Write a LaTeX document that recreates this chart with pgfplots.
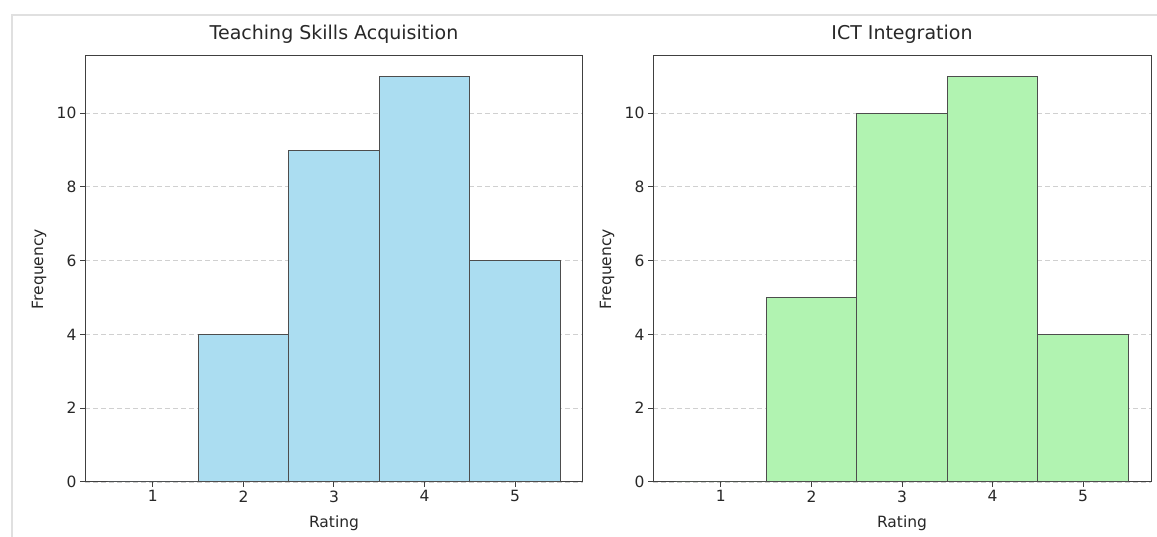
\documentclass[border=0pt]{standalone}
\usepackage{pgfplots}
\pgfplotsset{compat=1.18}
\usepackage{fontspec}
\setmainfont{DejaVu Sans}
\definecolor{skyfill}{RGB}{171,221,241}
\definecolor{greenfill}{RGB}{177,243,177}
\definecolor{edgec}{RGB}{77,77,77}
\definecolor{gridc}{RGB}{208,208,208}
\definecolor{txt}{RGB}{40,40,40}
\pgfplotsset{
 histax/.style={
  scale only axis, width=498pt, height=426pt,
  xmin=0.25, xmax=5.75, ymin=0, ymax=11.55,
  xtick={1,2,3,4,5}, ytick={0,2,4,6,8,10},
  tick align=outside, tick pos=left, major tick length=5pt,
  tick style={black!75, line width=1pt},
  axis line style={black!75, line width=1pt},
  ymajorgrids, grid style={gridc, dash pattern=on 5pt off 3pt, line width=0.9pt},
  tick label style={font=\fontsize{15.5}{18}\selectfont, text=txt},
  /pgf/number format/assume math mode=true,
  title style={font=\fontsize{19}{22}\selectfont, text=txt, at={(axis description cs:0.5,1.038)}, anchor=center},
  every axis y label/.style={at={(axis description cs:-0.092,0.5)}, rotate=90, anchor=center, font=\fontsize{15.5}{18}\selectfont, text=txt},
  every axis x label/.style={at={(axis description cs:0.5,-0.097)}, anchor=center, font=\fontsize{15.5}{18}\selectfont, text=txt},
  xlabel=Rating, ylabel=Frequency,
 }
}
\begin{document}
\begin{tikzpicture}
\path[use as bounding box] (0,0) rectangle (1157pt,537pt);
\fill[white] (0,0) rectangle (1157pt,537pt);
\draw[black!12, line width=2pt] (12pt,0) -- (12pt,522pt) -- (1157pt,522pt);
\begin{axis}[histax, at={(85pt,55pt)}, anchor=south west, title={Teaching Skills Acquisition}]
\addplot[ybar, bar width=1, fill=skyfill, draw=edgec, line width=1pt] coordinates {(1,0) (2,4) (3,9) (4,11) (5,6)};
\end{axis}
\begin{axis}[histax, at={(653pt,55pt)}, anchor=south west, title={ICT Integration}]
\addplot[ybar, bar width=1, fill=greenfill, draw=edgec, line width=1pt] coordinates {(1,0) (2,5) (3,10) (4,11) (5,4)};
\end{axis}
\end{tikzpicture}
\end{document}
